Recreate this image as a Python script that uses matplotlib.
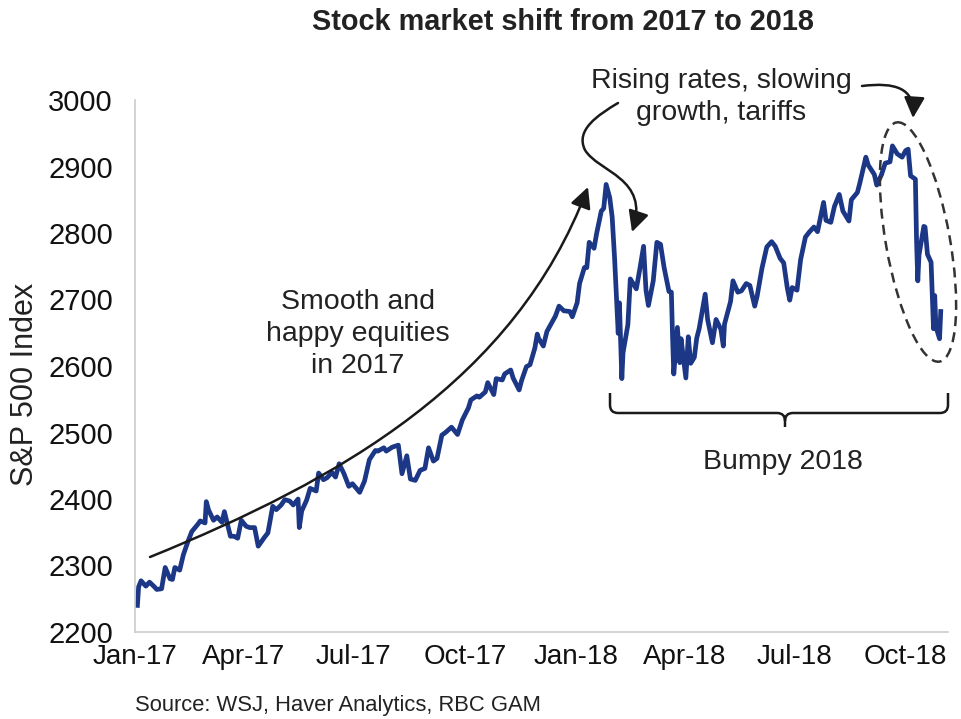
import numpy as np
import pandas as pd
import matplotlib
matplotlib.use("Agg")
import matplotlib.pyplot as plt
from matplotlib.path import Path
from matplotlib.patches import FancyArrowPatch, PathPatch, Ellipse
from matplotlib.transforms import Affine2D

plt.rcParams['font.family'] = ['Liberation Sans', 'DejaVu Sans']

# S&P 500 closes (roughly every 2-3 trading days)
dates_2017 = [
    "2017-01-03", "2017-01-04", "2017-01-06", "2017-01-10", "2017-01-13", "2017-01-17",
    "2017-01-19", "2017-01-23", "2017-01-26", "2017-01-30", "2017-02-01", "2017-02-03",
    "2017-02-07", "2017-02-10", "2017-02-14", "2017-02-17", "2017-02-22", "2017-02-24",
    "2017-02-28", "2017-03-01", "2017-03-03", "2017-03-07", "2017-03-10", "2017-03-14",
    "2017-03-16", "2017-03-21", "2017-03-24", "2017-03-27", "2017-03-30", "2017-04-03",
    "2017-04-06", "2017-04-10", "2017-04-13", "2017-04-18", "2017-04-21", "2017-04-25",
    "2017-04-28", "2017-05-02", "2017-05-05", "2017-05-09", "2017-05-12", "2017-05-16",
    "2017-05-17", "2017-05-19", "2017-05-23", "2017-05-26", "2017-05-31", "2017-06-02",
    "2017-06-06", "2017-06-09", "2017-06-13", "2017-06-16", "2017-06-19", "2017-06-23",
    "2017-06-27", "2017-06-30", "2017-07-06", "2017-07-10", "2017-07-14", "2017-07-19",
    "2017-07-21", "2017-07-26", "2017-07-28", "2017-08-02", "2017-08-07", "2017-08-10",
    "2017-08-14", "2017-08-17", "2017-08-21", "2017-08-25", "2017-08-29", "2017-09-01",
    "2017-09-05", "2017-09-08", "2017-09-12", "2017-09-15", "2017-09-20", "2017-09-25",
    "2017-09-29", "2017-10-04", "2017-10-06", "2017-10-11", "2017-10-13", "2017-10-18",
    "2017-10-20", "2017-10-25", "2017-10-27", "2017-11-01", "2017-11-03", "2017-11-08",
    "2017-11-10", "2017-11-15", "2017-11-17", "2017-11-21", "2017-11-24", "2017-11-28",
    "2017-11-30", "2017-12-01", "2017-12-05", "2017-12-08", "2017-12-12", "2017-12-15",
    "2017-12-18", "2017-12-22", "2017-12-27", "2017-12-29",
]
values_2017 = [
    2240, 2268, 2277, 2269, 2275, 2268,
    2264, 2265, 2297, 2280, 2279, 2297,
    2293, 2316, 2337, 2351, 2362, 2367,
    2364, 2396, 2383, 2368, 2373, 2365,
    2381, 2344, 2344, 2341, 2368, 2359,
    2357, 2357, 2329, 2342, 2349, 2389,
    2384, 2391, 2399, 2397, 2391, 2400,
    2357, 2382, 2398, 2416, 2412, 2439,
    2429, 2432, 2440, 2433, 2453, 2438,
    2419, 2423, 2410, 2427, 2459, 2473,
    2472, 2477, 2472, 2478, 2481, 2438,
    2465, 2430, 2428, 2443, 2446, 2477,
    2457, 2461, 2496, 2500, 2508, 2497,
    2519, 2537, 2549, 2555, 2553, 2561,
    2575, 2557, 2581, 2579, 2588, 2594,
    2582, 2564, 2578, 2599, 2602, 2627,
    2648, 2642, 2630, 2652, 2665, 2675,
    2690, 2683, 2682, 2674,
]
dates_2018 = [
    "2018-01-02", "2018-01-04", "2018-01-08", "2018-01-10", "2018-01-12", "2018-01-16",
    "2018-01-18", "2018-01-22", "2018-01-24", "2018-01-26", "2018-01-29", "2018-01-31",
    "2018-02-02", "2018-02-05", "2018-02-06", "2018-02-08", "2018-02-09", "2018-02-13",
    "2018-02-15", "2018-02-20", "2018-02-23", "2018-02-26", "2018-02-28", "2018-03-02",
    "2018-03-06", "2018-03-09", "2018-03-12", "2018-03-15", "2018-03-19", "2018-03-21",
    "2018-03-22", "2018-03-23", "2018-03-26", "2018-03-28", "2018-03-29", "2018-04-02",
    "2018-04-04", "2018-04-06", "2018-04-09", "2018-04-11", "2018-04-13", "2018-04-18",
    "2018-04-20", "2018-04-24", "2018-04-27", "2018-05-01", "2018-05-03", "2018-05-04",
    "2018-05-09", "2018-05-11", "2018-05-15", "2018-05-18", "2018-05-22", "2018-05-25",
    "2018-05-29", "2018-05-31", "2018-06-04", "2018-06-08", "2018-06-12", "2018-06-15",
    "2018-06-19", "2018-06-22", "2018-06-25", "2018-06-27", "2018-06-29", "2018-07-03",
    "2018-07-06", "2018-07-10", "2018-07-13", "2018-07-17", "2018-07-20", "2018-07-25",
    "2018-07-27", "2018-07-31", "2018-08-03", "2018-08-07", "2018-08-10", "2018-08-15",
    "2018-08-17", "2018-08-22", "2018-08-24", "2018-08-29", "2018-08-31", "2018-09-05",
    "2018-09-07", "2018-09-11", "2018-09-14", "2018-09-18", "2018-09-20", "2018-09-24",
    "2018-09-28", "2018-10-01", "2018-10-03", "2018-10-05", "2018-10-09", "2018-10-10",
    "2018-10-11", "2018-10-12", "2018-10-16", "2018-10-17", "2018-10-19", "2018-10-22",
    "2018-10-24", "2018-10-25", "2018-10-26", "2018-10-29", "2018-10-30",
]
values_2018 = [
    2695, 2724, 2748, 2748, 2786, 2777,
    2798, 2833, 2837, 2873, 2853, 2824,
    2762, 2649, 2695, 2581, 2620, 2662,
    2731, 2716, 2747, 2780, 2714, 2691,
    2728, 2786, 2783, 2748, 2712, 2711,
    2643, 2588, 2658, 2605, 2641, 2582,
    2644, 2604, 2613, 2642, 2656, 2708,
    2670, 2635, 2670, 2655, 2630, 2663,
    2697, 2728, 2711, 2713, 2724, 2721,
    2690, 2705, 2747, 2779, 2787, 2780,
    2762, 2755, 2717, 2699, 2718, 2714,
    2760, 2794, 2801, 2809, 2802, 2846,
    2819, 2816, 2840, 2858, 2833, 2818,
    2850, 2861, 2875, 2914, 2902, 2888,
    2872, 2888, 2905, 2907, 2931, 2919,
    2914, 2924, 2926, 2886, 2881, 2786,
    2728, 2767, 2810, 2809, 2768, 2756,
    2656, 2706, 2659, 2641, 2682,
]

tick_dates = ["2017-01-01", "2017-04-01", "2017-07-01", "2017-10-01",
              "2018-01-01", "2018-04-01", "2018-07-01", "2018-10-01"]
tick_labels = ["Jan-17", "Apr-17", "Jul-17", "Oct-17",
               "Jan-18", "Apr-18", "Jul-18", "Oct-18"]
y_ticks = [2200, 2300, 2400, 2500, 2600, 2700, 2800, 2900, 3000]

dates = pd.to_datetime(dates_2017 + dates_2018)
values = np.array(values_2017 + values_2018)

W, H = 962, 719
fig = plt.figure(figsize=(W / 100, H / 100), dpi=100)
ax = fig.add_axes([135 / W, 1 - 632 / H, (948 - 135) / W, (632 - 100) / H])

ax.plot(dates, values, color='#1c3786', lw=3.4, solid_joinstyle='round')

ax.set_xlim(pd.Timestamp("2017-01-01"), pd.Timestamp("2018-11-05"))
ax.set_ylim(2200, 3000)
ax.set_yticks(y_ticks)
ax.set_xticks(pd.to_datetime(tick_dates))
ax.set_xticklabels(tick_labels)
ax.tick_params(axis='both', length=0, colors='#111111')
ax.tick_params(axis='y', pad=16, labelsize=21)
ax.tick_params(axis='x', pad=9, labelsize=20)
ax.set_ylabel('S&P 500 Index', fontsize=22, color='#222222')
ax.yaxis.set_label_coords(-0.117, 0.465)

for side in ['top', 'right']:
    ax.spines[side].set_visible(False)
for side in ['left', 'bottom']:
    ax.spines[side].set_color('#cccccc')
    ax.spines[side].set_linewidth(1.2)

# annotations are placed in reference-pixel coordinates (origin top-left)
ref = Affine2D().scale(1 / W, -1 / H).translate(0, 1) + fig.transFigure

fig.text(563, 22, 'Stock market shift from 2017 to 2018', transform=ref,
         ha='center', va='center', fontsize=20.8, fontweight='bold', color='#222222')
fig.text(135, 705, 'Source: WSJ, Haver Analytics, RBC GAM', transform=ref,
         ha='left', va='center', fontsize=15.8, color='#222222')

fig.text(358, 334, 'Smooth and\nhappy equities\nin 2017', transform=ref,
         ha='center', va='center', fontsize=20.5, color='#222222', linespacing=1.3)
fig.text(721, 97, 'Rising rates, slowing\ngrowth, tariffs', transform=ref,
         ha='center', va='center', fontsize=20.5, color='#222222', linespacing=1.25)
fig.text(783, 462, 'Bumpy 2018', transform=ref,
         ha='center', va='center', fontsize=20.5, color='#222222')

C4, C3, L, M = Path.CURVE4, Path.CURVE3, Path.LINETO, Path.MOVETO


def arrow(verts, codes):
    p = FancyArrowPatch(path=Path(verts, codes), arrowstyle='-|>,head_length=0.7,head_width=0.35',
                        mutation_scale=18, lw=1.8, color='#1a1a1a', transform=ref)
    fig.add_artist(p)


arrow([(150, 557), (340, 480), (515, 380), (588, 187)], [M, C4, C4, C4])
arrow([(618, 103), (598, 115), (575, 130), (585, 150),
       (598, 172), (650, 178), (632, 232)], [M, C4, C4, C4, C4, C4, C4])
arrow([(862, 86), (895, 82), (915, 88), (913, 118)], [M, C4, C4, C4])

bracket = Path(
    [(610, 393), (610, 405), (610, 413), (618, 413), (777, 413), (785, 413), (785, 421),
     (785, 427), (785, 421), (785, 413), (793, 413), (940, 413), (948, 413), (948, 405),
     (948, 393)],
    [M, L, C3, C3, L, C3, C3, L, M, C3, C3, L, C3, C3, L])
fig.add_artist(PathPatch(bracket, fill=False, lw=1.8, ec='#1a1a1a', transform=ref))

fig.add_artist(Ellipse((918, 242), width=64, height=243, angle=-10.2, fill=False,
                       ls=(0, (4, 2.5)), lw=1.8, ec='#333333', transform=ref))

fig.savefig('out.png', dpi=100, facecolor='white')
